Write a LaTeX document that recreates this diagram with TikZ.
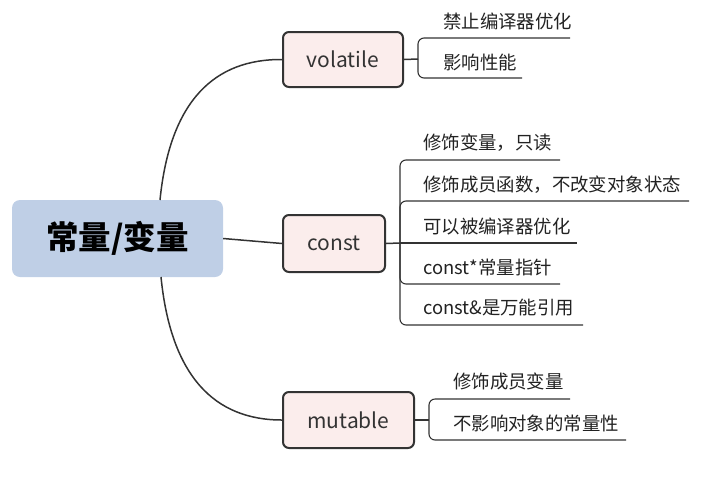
\documentclass[tikz,border=0pt]{standalone}
\usepackage{fontspec}
\setmainfont{Noto Sans CJK SC}
\definecolor{rootfill}{HTML}{BFCFE6}
\definecolor{subfill}{HTML}{FBEDEC}
\definecolor{linec}{HTML}{333333}
\definecolor{txt}{HTML}{222222}
\begin{document}
\begin{tikzpicture}[x=1pt,y=-1pt,
  rootbox/.style={fill=rootfill, rounded corners=8pt, minimum width=211pt, minimum height=77pt, inner sep=0pt, font=\fontsize{32.5}{36}\selectfont\bfseries, text=black},
  subbox/.style={draw=linec, line width=2pt, fill=subfill, rounded corners=6pt, minimum height=55pt, inner sep=0pt, font=\fontsize{21}{24}\selectfont, text=linec},
  leaf/.style={anchor=west, inner sep=0pt, font=\fontsize{18.4}{20}\selectfont, text=txt},
  conn/.style={draw=linec, line width=1.5pt},
  leafline/.style={draw=linec, line width=1.1pt, rounded corners=6pt}
]
\useasboundingbox (0,0) rectangle (703,480);
\node[rootbox] (root) at (117.5,238.5) {常量/变量};
\node[subbox, minimum width=120pt] (vol) at (343,59.5) {volatile};
\node[subbox, minimum width=102pt, minimum height=57pt] (con) at (334,243.5) {const};
\node[subbox, minimum width=131pt, minimum height=56pt] (mut) at (348.5,420) {mutable};

\coordinate (rt) at (160,200);
\coordinate (rb) at (161,277);
\draw[conn] (rt) .. controls (170,100) and (215,59) .. (vol.west);
\draw[conn] (root.east) -- (con.west);
\draw[conn] (rb) .. controls (171,377) and (215,420) .. (mut.west);

% volatile leaves
\node[leaf] (v1) at (443,21) {禁止编译器优化};
\node[leaf] (v2) at (443,62) {影响性能};
\coordinate (vs) at (418,59);
\coordinate (v1e) at (570,38);
\coordinate (v2e) at (522,78);
\draw[conn] (vol.east) -- (vs);
\draw[leafline] (vs) |- (v1e);
\draw[leafline] (vs) |- (v2e);

% const leaves
\node[leaf] (c1) at (423,143) {修饰变量，只读};
\node[leaf] (c2) at (423,185) {修饰成员函数，不改变对象状态};
\node[leaf] (c3) at (423,227) {可以被编译器优化};
\node[leaf] (c4) at (423,267) {const*常量指针};
\node[leaf] (c5) at (423,308) {const\&是万能引用};
\coordinate (cs) at (400,243);
\coordinate (c1e) at (560,160);
\coordinate (c2e) at (689,201);
\coordinate (c3e) at (577,243);
\coordinate (c4e) at (560,284);
\coordinate (c5e) at (583,325);
\draw[conn] (con.east) -- (cs);
\draw[leafline] (cs) |- (c1e);
\draw[leafline] (cs) |- (c2e);
\draw[leafline] (cs) -- (c3e);
\draw[leafline] (cs) |- (c4e);
\draw[leafline] (cs) |- (c5e);

% mutable leaves
\node[leaf] (m1) at (453,381) {修饰成员变量};
\node[leaf] (m2) at (453,423) {不影响对象的常量性};
\coordinate (ms) at (429,420);
\coordinate (m1e) at (570,399);
\coordinate (m2e) at (626,440);
\draw[conn] (mut.east) -- (ms);
\draw[leafline] (ms) |- (m1e);
\draw[leafline] (ms) |- (m2e);
\end{tikzpicture}
\end{document}
